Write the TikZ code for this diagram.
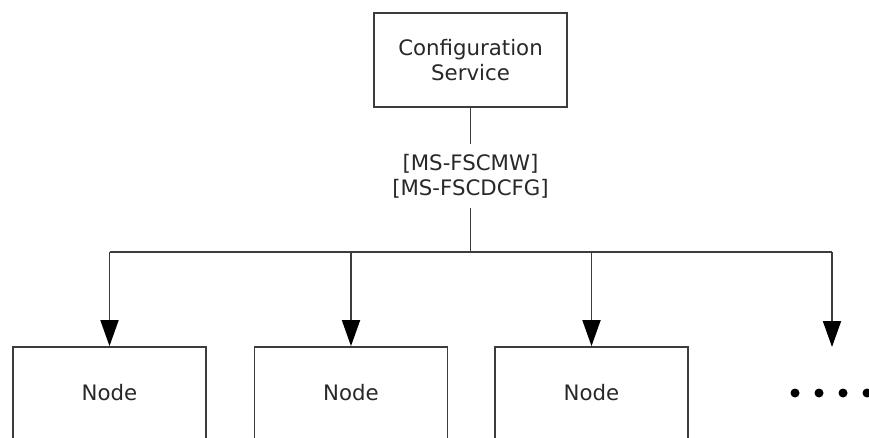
\documentclass[tikz,border=0pt]{standalone}
\usepackage{fontspec}
\setmainfont{DejaVu Sans}
\usetikzlibrary{arrows.meta}
\definecolor{linegray}{RGB}{60,60,60}
\definecolor{textgray}{RGB}{40,40,40}
\tikzset{
  box/.style={draw=linegray, line width=1.8pt, fill=white, minimum width=193pt, inner sep=0pt, align=center, text=textgray, font=\fontsize{21.3pt}{25pt}\selectfont},
  conn/.style={draw=linegray, line width=1.8pt},
  arr/.style={conn, -{Triangle[length=26pt,width=18pt,color=black,fill=black]}},
  lbl/.style={fill=white, inner xsep=2pt, inner ysep=10pt, align=center, text=textgray, font=\fontsize{21.3pt}{25pt}\selectfont},
  dotm/.style={circle, fill=black, inner sep=0pt, minimum size=9pt}
}
\begin{document}
\begin{tikzpicture}[x=1pt,y=-1pt]
\useasboundingbox (0,0) rectangle (869,438);
\node[box, minimum height=94pt] (cfg) at (470.5,60) {Configuration\\Service};
\node[lbl] (proto) at (470.5,176) {{[MS-FSCMW]}\\{}{[MS-FSCDCFG]}};
\coordinate (j) at (470.5,252);
\coordinate (h1) at (109.5,252);
\coordinate (h2) at (351,252);
\coordinate (h3) at (591.5,252);
\coordinate (h4) at (832,252);
\coordinate (e4) at (832,347);
\node[box, minimum height=92pt] (n1) at (109.5,393) {Node};
\node[box, minimum height=92pt] (n2) at (351,393) {Node};
\node[box, minimum height=92pt] (n3) at (591.5,393) {Node};
\draw[conn] (cfg.south) -- (proto.north);
\draw[conn] (proto.south) -- (j);
\draw[conn] (h1) -- (h4);
\draw[arr] (h1) -- (n1.north);
\draw[arr] (h2) -- (n2.north);
\draw[arr] (h3) -- (n3.north);
\draw[arr] (h4) -- (e4);
\node[dotm] (d1) at (795,393) {};
\node[dotm] (d2) at (819,393) {};
\node[dotm] (d3) at (843,393) {};
\node[dotm] (d4) at (867,393) {};
\end{tikzpicture}
\end{document}
